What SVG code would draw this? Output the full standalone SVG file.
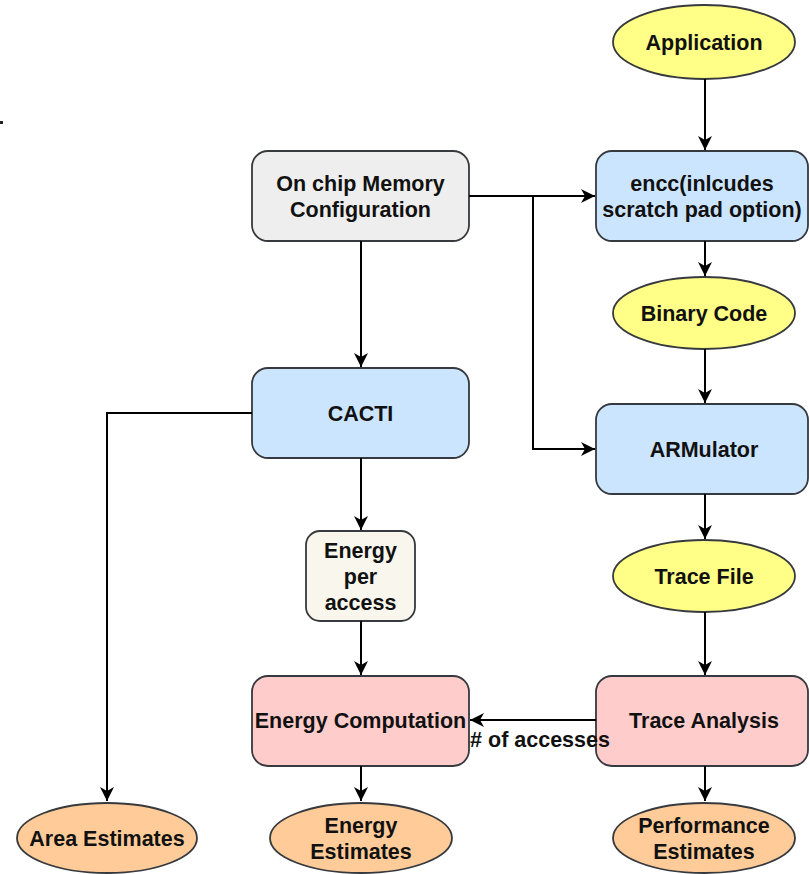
<svg xmlns="http://www.w3.org/2000/svg" width="809" height="874" viewBox="0 0 809 874">
<style>
.n{stroke:#36393d;stroke-width:1.8}
.blue{fill:#cce5ff}
.grey{fill:#eeeeee}
.yel{fill:#ffff88}
.pink{fill:#ffcccc}
.org{fill:#ffcc99}
.cream{fill:#f9f7ed}
text{font-family:"Liberation Sans",Arial,sans-serif;font-weight:bold;font-size:21.5px;fill:#111;text-anchor:middle}
.e{fill:none;stroke:#000;stroke-width:2}
.a{marker-end:url(#arr)}
</style>
<defs>
<marker id="arr" markerUnits="userSpaceOnUse" markerWidth="16" markerHeight="14" refX="14" refY="7" orient="auto">
<path d="M0,0 L14,7 L0,14 L4,7 Z" fill="#000"/>
</marker>
</defs>
<rect x="0" y="121" width="3" height="3" fill="#222"/>
<g id="application"><ellipse class="n yel" cx="704" cy="42" rx="91" ry="37"/><text x="704" y="49.5">Application</text></g>
<g id="encc"><rect class="n blue" x="596" y="151" width="212" height="90" rx="16"/><text x="702" y="190.5">encc(inlcudes</text><text x="702" y="216.5">scratch pad option)</text></g>
<g id="onchip"><rect class="n grey" x="252" y="151" width="217" height="90" rx="16"/><text x="360.5" y="190.5">On chip Memory</text><text x="360.5" y="216.5">Configuration</text></g>
<g id="binary"><ellipse class="n yel" cx="704" cy="313" rx="91" ry="36"/><text x="704" y="320.5">Binary Code</text></g>
<g id="cacti"><rect class="n blue" x="252" y="368" width="217" height="90" rx="16"/><text x="360.5" y="420.5">CACTI</text></g>
<g id="armulator"><rect class="n blue" x="596" y="404" width="212" height="90" rx="16"/><text x="704" y="456.5">ARMulator</text></g>
<g id="energyper"><rect class="n cream" x="306" y="531" width="109" height="90" rx="14"/><text x="360.5" y="557.5">Energy</text><text x="360.5" y="583.5">per</text><text x="360.5" y="609.5">access</text></g>
<g id="tracefile"><ellipse class="n yel" cx="704" cy="576" rx="91" ry="36"/><text x="704" y="583.5">Trace File</text></g>
<g id="energycomp"><rect class="n pink" x="252" y="676" width="217" height="90" rx="16"/><text x="360.5" y="727.5">Energy Computation</text></g>
<g id="traceanalysis"><rect class="n pink" x="596" y="676" width="212" height="90" rx="16"/><text x="704" y="727.5">Trace Analysis</text></g>
<g id="area"><ellipse class="n org" cx="107" cy="838" rx="90" ry="35"/><text x="107" y="845.5">Area Estimates</text></g>
<g id="energyest"><ellipse class="n org" cx="361" cy="838" rx="91" ry="35"/><text x="361" y="832.5">Energy</text><text x="361" y="858.5">Estimates</text></g>
<g id="perf"><ellipse class="n org" cx="704" cy="838" rx="91" ry="35"/><text x="704" y="832.5">Performance</text><text x="704" y="858.5">Estimates</text></g>
<g id="connectors">
<path class="e a" d="M705,79 V150"/>
<path class="e a" d="M469,196 H595"/>
<path class="e a" d="M533,196 V449 H595"/>
<path class="e a" d="M705,241 V276"/>
<path class="e a" d="M705,349 V403"/>
<path class="e a" d="M705,494 V539"/>
<path class="e a" d="M705,612 V675"/>
<path class="e a" d="M596,720 H470"/>
<path class="e a" d="M361,241 V367"/>
<path class="e a" d="M252,413 H107 V801"/>
<path class="e a" d="M361,458 V530"/>
<path class="e a" d="M361,621 V675"/>
<path class="e a" d="M361,766 V801"/>
<path class="e a" d="M705,766 V801"/>
<text x="540" y="747">#  of accesses</text>
</g>
</svg>
